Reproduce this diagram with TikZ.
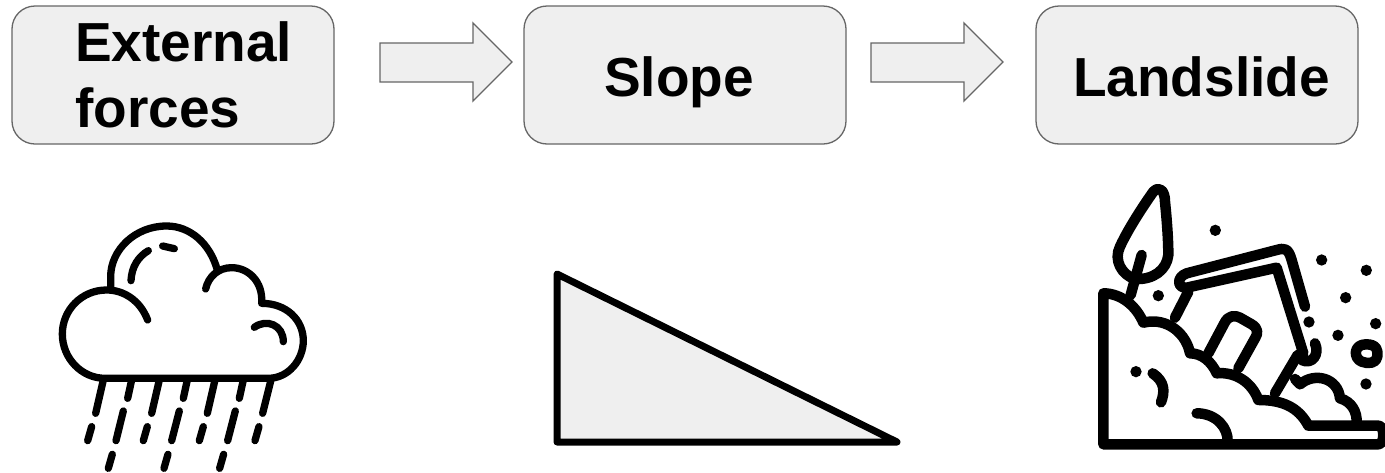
\documentclass[tikz,border=0pt]{standalone}
\usepackage{fontspec}
\setmainfont{Liberation Sans}
\definecolor{boxfill}{HTML}{EFEFEF}
\definecolor{boxline}{HTML}{666666}
\tikzset{
 flowbox/.style={draw=boxline,fill=boxfill,line width=1.3pt,rounded corners=23pt},
 blockarrow/.style={draw=boxline,fill=boxfill,line width=1.3pt,line join=miter},
 label/.style={font=\fontsize{55}{55}\selectfont\bfseries,anchor=base west,inner sep=0pt,text=black},
 cloudline/.style={draw=black,line width=7.3pt,line cap=round,line join=round},
 slideline/.style={draw=black,line width=10.5pt,line cap=round,line join=round},
 pebble/.style={fill=black}
}
\begin{document}
\begin{tikzpicture}[x=1pt,y=-1pt]
\useasboundingbox (0,0) rectangle (1385,472);
\fill[white] (0,0) rectangle (1385,472);
% boxes
\path[flowbox] (12,6) rectangle (334,144);
\path[flowbox] (524,6) rectangle (846,144);
\path[flowbox] (1036,6) rectangle (1358,144);
\node[label] (ext) at (75,61) {External};
\node[label] (frc) at (75,127) {forces};
\node[label] (slp) at (604,96) {Slope};
\node[label] (lnd) at (1073,96) {Landslide};
% arrows
\path[blockarrow] (380,43) -- (473,43) -- (473,23) -- (512,62) -- (473,101) -- (473,82) -- (380,82) -- cycle;
\path[blockarrow] (871,43) -- (964,43) -- (964,23) -- (1003,62) -- (964,101) -- (964,82) -- (871,82) -- cycle;
% triangle
\draw[fill=boxfill,line width=7pt,line join=round] (557,274) -- (557,442) -- (897,442) -- cycle;
% cloud
\begin{scope}[shift={(40pt,-210pt)},x=0.3333pt,y=-0.3333pt]
\path[cloudline] (323,330) .. controls (300,270) and (250,240) .. (200,240)
  .. controls (125,240) and (67,300) .. (67,372)
  .. controls (67,445) and (125,505) .. (195,505) -- (685,505)
  .. controls (745,505) and (790,450) .. (790,392)
  .. controls (790,330) and (740,280) .. (665,280)
  .. controls (670,215) and (625,173) .. (575,173)
  .. controls (535,173) and (505,200) .. (497,237);
\path[cloudline] (532,180) .. controls (510,100) and (450,48) .. (380,48)
  .. controls (285,48) and (212,120) .. (212,200) -- (212,235);
\path[cloudline] (273,212) .. controls (275,170) and (295,140) .. (325,122);
\path[cloudline] (368,108) -- (403,116);
\path[cloudline] (643,352) .. controls (680,325) and (730,345) .. (730,395);
\foreach \a/\b/\c/\d in {190/510/167/610,275/510/263/565,358/510/335/610,442/510/430/565,525/510/502/610,610/510/598/565,693/510/668/610,
 250/603/228/692,418/603/395/692,586/603/563/692,155/650/143/692,322/650/310/692,490/650/478/692,657/650/645/692,
 217/733/205/775,384/733/372/775,551/733/539/775}
 \path[cloudline] (\a,\b) -- (\c,\d);
\end{scope}
% landslide
\begin{scope}[shift={(1085pt,-175pt)},x=0.3333pt,y=-0.3333pt]
\path[slideline] (55,355) -- (55,808) -- (880,808) .. controls (900,808) and (900,752) .. (880,752) -- (670,752)
  .. controls (640,695) and (590,675) .. (520,675)
  .. controls (500,620) and (450,590) .. (395,595)
  .. controls (380,560) and (350,535) .. (315,535)
  .. controls (305,480) and (250,425) .. (175,443)
  .. controls (155,395) and (110,355) .. (55,355);
\path[slideline] (630,612) -- (645,628) .. controls (690,590) and (760,610) .. (765,670)
  .. controls (800,680) and (817,710) .. (815,745);
% tree
\path[slideline] (137,360) -- (170,240);
\path[slideline] (150,312) .. controls (110,300) and (85,255) .. (105,215)
  .. controls (130,160) and (180,85) .. (205,50)
  .. controls (225,30) and (240,50) .. (240,80)
  .. controls (245,130) and (250,190) .. (250,240)
  .. controls (245,285) and (205,315) .. (150,312);
% house
\path[slideline] (660,395) -- (620,255) .. controls (610,220) and (600,218) .. (575,225)
  -- (305,295) .. controls (275,305) and (275,340) .. (305,338)
  -- (575,278) -- (655,535);
\path[slideline] (310,350) -- (270,428);
\path[slideline] (638,540) -- (570,655);
\path[slideline] (690,505) .. controls (705,540) and (680,570) .. (650,555);
\path[slideline] (370,535) -- (418,445) .. controls (430,420) and (450,420) .. (465,428)
  -- (500,448) .. controls (520,460) and (520,475) .. (510,490) -- (460,580);
% pebble ring
\path[slideline] (843,508) .. controls (875,508) and (880,525) .. (877,545)
  .. controls (875,565) and (850,568) .. (830,560)
  .. controls (805,550) and (805,508) .. (843,508) -- cycle;
% dots
\foreach \x/\y in {391/166,710/255,844/286,782/368,220/362,672/441,872/446,759/481,843/627,153/590}
 \fill[pebble] (\x,\y) circle (17);
% ground details
\path[slideline] (203,595) .. controls (240,620) and (240,650) .. (228,682);
\path[slideline] (335,715) .. controls (395,715) and (430,760) .. (428,800);
\end{scope}
\end{tikzpicture}
\end{document}
